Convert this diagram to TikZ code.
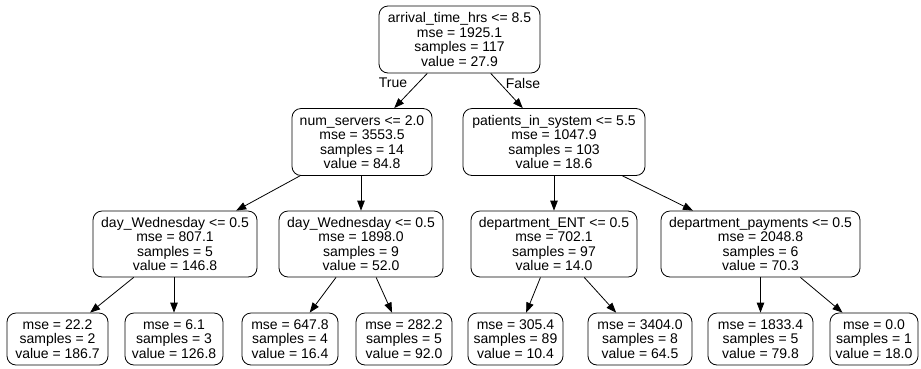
\documentclass[tikz,border=0pt]{standalone}
\usepackage{fontspec}
\setmainfont{Liberation Sans}
\usetikzlibrary{arrows.meta}
\begin{document}
\begin{tikzpicture}[x=1pt,y=-1pt,
 box/.style={draw, rounded corners=9pt, align=center, font=\fontsize{14}{14.5}\selectfont, inner sep=2pt, line width=0.8pt},
 inode/.style={box, minimum height=67pt},
 leaf/.style={box, minimum height=52pt},
 edge/.style={-{Triangle[length=10pt,width=7.5pt]}, line width=0.8pt},
 lbl/.style={font=\fontsize{14}{14.5}\selectfont}]
\useasboundingbox[fill=white] (0,0) rectangle (921,368);
\node[inode, minimum width=161pt] (root) at (459.5,39.5) {arrival\_time\_hrs <= 8.5\\mse = 1925.1\\samples = 117\\value = 27.9};
\node[inode, minimum width=140pt] (ns) at (362,142) {num\_servers <= 2.0\\mse = 3553.5\\samples = 14\\value = 84.8};
\node[inode, minimum width=182pt] (pis) at (554,142) {patients\_in\_system <= 5.5\\mse = 1047.9\\samples = 103\\value = 18.6};
\node[inode, minimum width=164pt, minimum height=66pt] (dw1) at (175,244) {day\_Wednesday <= 0.5\\mse = 807.1\\samples = 5\\value = 146.8};
\node[inode, minimum width=164pt, minimum height=66pt] (dw2) at (361,244) {day\_Wednesday <= 0.5\\mse = 1898.0\\samples = 9\\value = 52.0};
\node[inode, minimum width=166pt, minimum height=66pt] (ent) at (554,244) {department\_ENT <= 0.5\\mse = 702.1\\samples = 97\\value = 14.0};
\node[inode, minimum width=199pt, minimum height=66pt] (pay) at (760.5,244) {department\_payments <= 0.5\\mse = 2048.8\\samples = 6\\value = 70.3};
\node[leaf, minimum width=101pt] (l1) at (57.5,339) {mse = 22.2\\samples = 2\\value = 186.7};
\node[leaf, minimum width=98pt] (l2) at (174,339) {mse = 6.1\\samples = 3\\value = 126.8};
\node[leaf, minimum width=96pt] (l3) at (290,339) {mse = 647.8\\samples = 4\\value = 16.4};
\node[leaf, minimum width=96pt] (l4) at (404,339) {mse = 282.2\\samples = 5\\value = 92.0};
\node[leaf, minimum width=95pt] (l5) at (515.5,339) {mse = 305.4\\samples = 89\\value = 10.4};
\node[leaf, minimum width=104pt] (l6) at (640,339) {mse = 3404.0\\samples = 8\\value = 64.5};
\node[leaf, minimum width=105pt] (l7) at (760.5,339) {mse = 1833.4\\samples = 5\\value = 79.8};
\node[leaf, minimum width=88pt] (l8) at (874,339) {mse = 0.0\\samples = 1\\value = 18.0};
\draw[edge] (root) -- (ns);
\draw[edge] (root) -- (pis);
\node[lbl] (tl) at (393,83) {True};
\node[lbl] (fl) at (523,83) {False};
\draw[edge] (ns) -- (dw1);
\draw[edge] (ns.south -| dw2) -- (dw2);
\draw[edge] (pis) -- (ent);
\draw[edge] (pis) -- (pay);
\draw[edge] (dw1) -- (l1);
\draw[edge] (dw1.south -| l2) -- (l2);
\draw[edge] (dw2) -- (l3);
\draw[edge] (dw2) -- (l4);
\draw[edge] (ent) -- (l5);
\draw[edge] (ent) -- (l6);
\draw[edge] (pay) -- (l7);
\draw[edge] (pay) -- (l8);
\end{tikzpicture}
\end{document}
